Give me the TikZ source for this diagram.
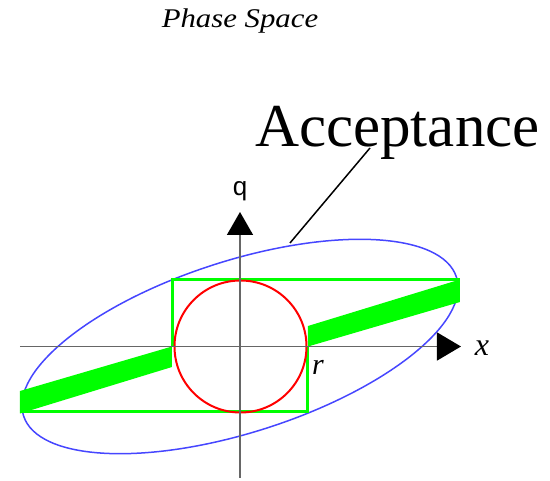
\documentclass[tikz,border=0pt]{standalone}
\usepackage{fontspec}
\setmainfont{Liberation Serif}
\newfontfamily\qfont{Liberation Sans}
\usetikzlibrary{arrows.meta}
\definecolor{bandgreen}{RGB}{0,255,0}
\definecolor{accblue}{RGB}{70,70,255}
\definecolor{circred}{RGB}{255,0,0}

\begin{document}
\begin{tikzpicture}[x=1pt,y=1pt,
  axis/.style={draw=black!60, line width=1.5pt},
  edge/.style={draw=bandgreen, line width=3pt},
  band/.style={fill=bandgreen},
  lbl/.style={inner sep=0pt}]
\useasboundingbox (-240,-134.5) rectangle (310,346.5);
% acceptance ellipse
\draw[accblue, line width=1.5pt, rotate=17.76] (0,0) ellipse (227.3 and 85.85);
% phase space region
\fill[band] (68,0) -- (220,44.5) -- (220,67) -- (68,20.5) -- cycle;
\fill[band] (-68,0) -- (-220,-44.5) -- (-220,-67) -- (-68,-20.5) -- cycle;
\draw[edge] (220,66.5) -- (-67,66.5) -- (-67,0);
\draw[edge] (-220,-65.5) -- (68,-65.5) -- (68,0);
\draw[circred, line width=2pt] (0.5,0) circle (66);
% axes
\coordinate (xs) at (-220,0);
\coordinate (xe) at (221,0);
\coordinate (ys) at (0,-131.5);
\coordinate (ye) at (0,134.5);
\draw[axis,-{Triangle[length=24pt,width=28pt,color=black]}] (xs) -- (xe);
\draw[axis,-{Triangle[length=23pt,width=26pt,color=black]}] (ys) -- (ye);
\node[lbl] (xl) at (242,-1.5) {\fontsize{32}{32}\selectfont\itshape x};
\node[lbl] (ql) at (0,155) {\qfont\fontsize{26}{26}\selectfont q};
\node[lbl] (rl) at (78,-20.5) {\fontsize{30}{30}\selectfont\itshape r};
% labels
\node[lbl, anchor=base west] (acc) at (15,199.5) {\fontsize{61}{61}\selectfont Acceptance};
\node[lbl, anchor=base, xscale=1.14] (title) at (0,318.5) {\fontsize{27}{27}\selectfont\itshape Phase Space};
\coordinate (tip) at (50,103.5);
\coordinate (tail) at (130,198.5);
\draw[line width=1.5pt] (tip) -- (tail);
\end{tikzpicture}
\end{document}
